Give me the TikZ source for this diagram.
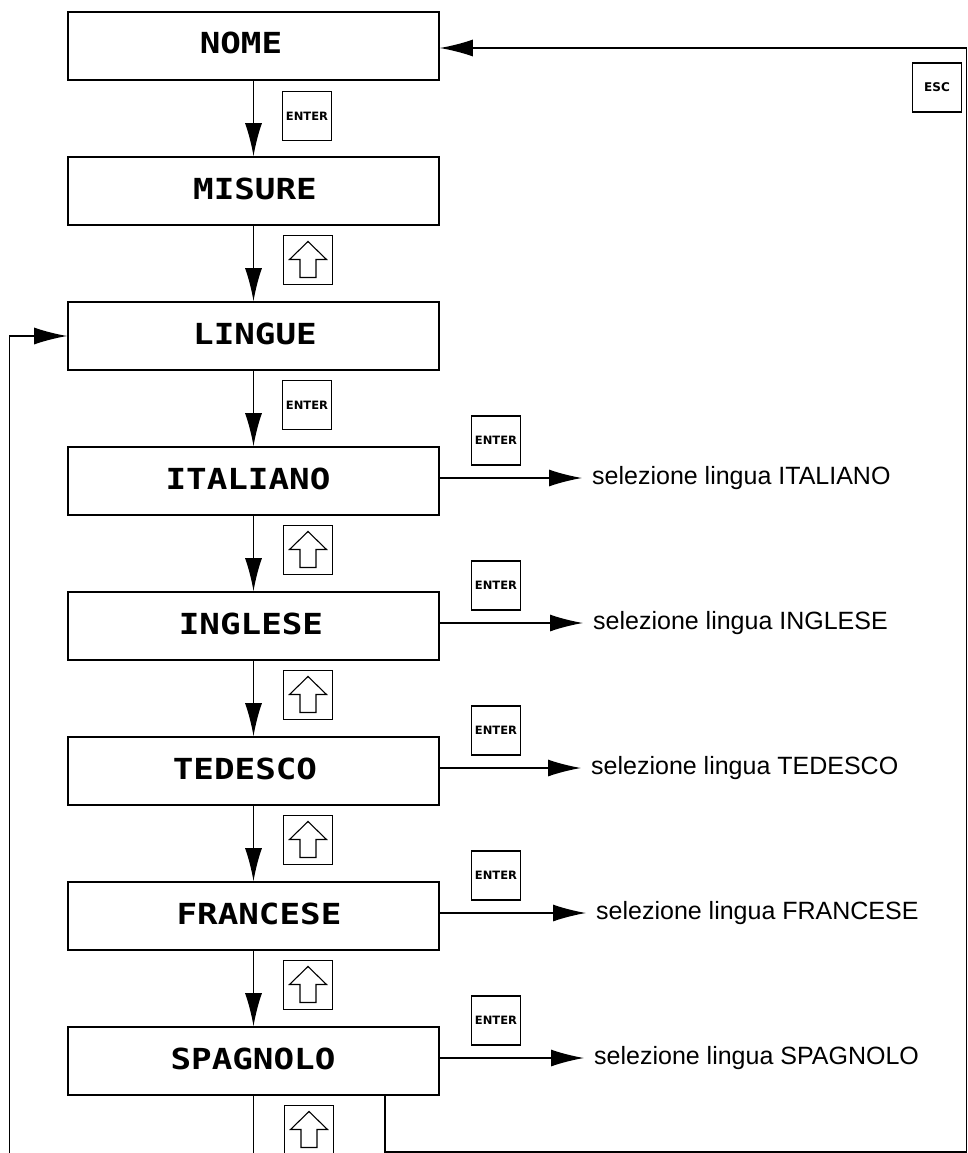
\documentclass[tikz,border=0pt]{standalone}
\usepackage{fontspec}
\setmainfont{Liberation Sans}
\newfontfamily\boxfont{DejaVu Sans Mono}
\newfontfamily\keyfont{DejaVu Sans}
\usetikzlibrary{arrows.meta}
\begin{document}
\begin{tikzpicture}[x=1pt,y=-1pt,
  menubox/.style={draw,line width=1.6pt,minimum width=371pt,minimum height=68pt,inner sep=0pt},
  boxlabel/.style={anchor=base,inner sep=0pt,font=\boxfont\bfseries\fontsize{29}{29}\selectfont},
  keybox/.style={draw,line width=1.4pt,minimum width=49pt,minimum height=49pt,inner sep=0pt,
    font=\keyfont\bfseries\fontsize{11.5}{11.5}\selectfont},
  seltext/.style={anchor=west,inner sep=0pt,inner xsep=10pt,text height=18pt,text depth=5pt,
    font=\fontsize{25}{25}\selectfont},
  conn/.style={line width=1.4pt},
  arr/.style={conn,-{Latex[length=33pt,width=17pt]}},
  uparrow/.pic={\draw[line width=1.1pt,line join=miter]
     (0,-18.5) -- (18.5,-0.5) -- (8,-0.5) -- (8,17.5) -- (-8,17.5) -- (-8,-0.5) -- (-18.5,-0.5) -- cycle;}
]
\useasboundingbox[fill=white] (0,0) rectangle (967,1153);

% menu boxes
\node[menubox] (nome)     at (253.5,46)   {};
\node[menubox] (misure)   at (253.5,191)  {};
\node[menubox] (lingue)   at (253.5,336)  {};
\node[menubox] (italiano) at (253.5,481)  {};
\node[menubox] (inglese)  at (253.5,626)  {};
\node[menubox] (tedesco)  at (253.5,771)  {};
\node[menubox] (francese) at (253.5,916)  {};
\node[menubox] (spagnolo) at (253.5,1061) {};

\node[boxlabel] (nomeT)     at (241,54)   {\scalebox{1.18}[1]{NOME}};
\node[boxlabel] (misureT)   at (255,199)  {\scalebox{1.18}[1]{MISURE}};
\node[boxlabel] (lingueT)   at (255,344)  {\scalebox{1.18}[1]{LINGUE}};
\node[boxlabel] (italianoT) at (248,489)  {\scalebox{1.18}[1]{ITALIANO}};
\node[boxlabel] (ingleseT)  at (251,634)  {\scalebox{1.18}[1]{INGLESE}};
\node[boxlabel] (tedescoT)  at (245,779)  {\scalebox{1.18}[1]{TEDESCO}};
\node[boxlabel] (franceseT) at (259,924)  {\scalebox{1.18}[1]{FRANCESE}};
\node[boxlabel] (spagnoloT) at (253,1069) {\scalebox{1.18}[1]{SPAGNOLO}};

% keys on the vertical chain
\node[keybox] (k0) at (307,116) {ENTER};
\node[keybox] (k1) at (308,260) {};
\pic at (k1) {uparrow};
\node[keybox] (k2) at (307,405) {ENTER};
\node[keybox] (k3) at (308,550) {};
\pic at (k3) {uparrow};
\node[keybox] (k4) at (308,695) {};
\pic at (k4) {uparrow};
\node[keybox] (k5) at (308,840) {};
\pic at (k5) {uparrow};
\node[keybox] (k6) at (308,985) {};
\pic at (k6) {uparrow};
\node[keybox] (k7) at (309,1130) {};
\pic at (k7) {uparrow};

% ESC key
\node[keybox,font=\keyfont\bfseries\fontsize{12}{12}\selectfont] (esc) at (937,87.5) {ESC};

% ENTER keys on the right
\node[keybox] (e3) at (496,440.5) {ENTER};
\node[keybox] (e4) at (496,585.5) {ENTER};
\node[keybox] (e5) at (496,730.5) {ENTER};
\node[keybox] (e6) at (496,875.5) {ENTER};
\node[keybox] (e7) at (496,1020.5) {ENTER};

% selection texts
\node[seltext] (s3) at (582,478)  {selezione lingua ITALIANO};
\node[seltext] (s4) at (583,623)  {selezione lingua INGLESE};
\node[seltext] (s5) at (581,768)  {selezione lingua TEDESCO};
\node[seltext] (s6) at (586,913)  {selezione lingua FRANCESE};
\node[seltext] (s7) at (584,1058) {selezione lingua SPAGNOLO};

% vertical chain
\draw[arr] (nome) -- (misure);
\draw[arr] (misure) -- (lingue);
\draw[arr] (lingue) -- (italiano);
\draw[arr] (italiano) -- (inglese);
\draw[arr] (inglese) -- (tedesco);
\draw[arr] (tedesco) -- (francese);
\draw[arr] (francese) -- (spagnolo);

% selection arrows
\draw[arr] (italiano.east |- s3.west) -- (s3.west);
\draw[arr] (inglese.east |- s4.west) -- (s4.west);
\draw[arr] (tedesco.east |- s5.west) -- (s5.west);
\draw[arr] (francese.east |- s6.west) -- (s6.west);
\draw[arr] (spagnolo.east |- s7.west) -- (s7.west);

% continuation below SPAGNOLO
\coordinate (bot) at (253.5,1153);
\draw[conn] (spagnolo.south) -- (bot);

% loop back to LINGUE
\coordinate (l1) at (9.5,1153);
\coordinate (l2) at (9.5,336);
\draw[arr] (l1) -- (l2) -- (lingue.west);

% ESC loop back to NOME
\coordinate (r1) at (385,1152);
\coordinate (r2) at (966.5,1152);
\coordinate (r3) at (966.5,48);
\draw[conn] (spagnolo.south -| r1) -- (r1) -- (r2) -- (r3);
\draw[arr] (r3) -- (nome.east |- r3);
\end{tikzpicture}
\end{document}
